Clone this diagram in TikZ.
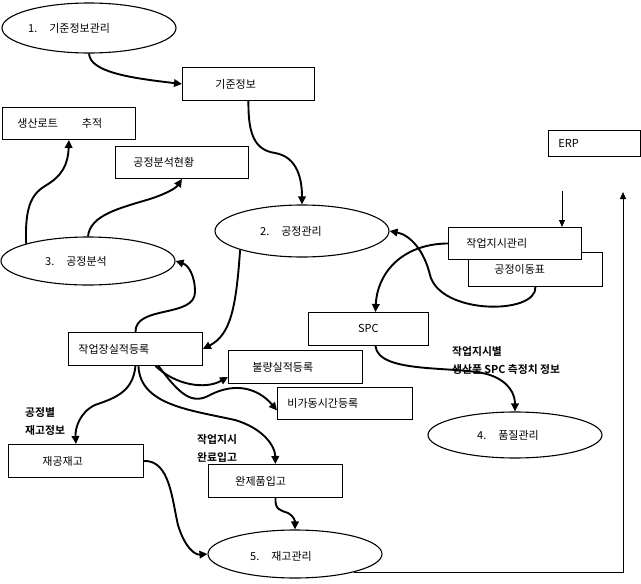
\documentclass[tikz,border=0pt]{standalone}
\usepackage{fontspec}
\setmainfont{Noto Sans CJK KR}[BoldFont={Noto Sans CJK KR Bold}]
\usetikzlibrary{shapes.geometric,arrows.meta,calc}
\tikzset{
  ell/.style={draw, ellipse, line width=1.1pt, inner sep=0pt},
  bx/.style={draw, line width=0.9pt, anchor=north west, align=left, inner ysep=0pt, fill=white},
  txt/.style={inner sep=0pt, anchor=west},
  lbl/.style={inner sep=0pt, anchor=west, align=left, font=\fontsize{10.8pt}{18pt}\selectfont\bfseries},
  flow/.style={line width=1.9pt, -{Triangle[length=8pt,width=7.5pt]}},
  thinflow/.style={line width=1pt, -{Triangle[length=7pt,width=6pt]}},
}
\begin{document}
\begin{tikzpicture}[x=1pt,y=-1pt,font=\fontsize{11pt}{13pt}\selectfont]
\fill[white] (0,0) rectangle (641,584);
\useasboundingbox (0,0) rectangle (641,584);

% ellipses
\node[ell, minimum width=174pt, minimum height=50pt] (e1) at (89,28) {};
\node[txt] (t1) at (28,28) {1.\hspace{12pt}기준정보관리};
\node[ell, minimum width=174pt, minimum height=52pt] (e2) at (302,231) {};
\node[txt] (t2) at (260,231) {2.\hspace{12pt}공정관리};
\node[ell, minimum width=174pt, minimum height=48pt] (e3) at (88,261) {};
\node[txt] (t3) at (45,261) {3.\hspace{12pt}공정분석};
\node[ell, minimum width=174pt, minimum height=46pt] (e4) at (515,435) {};
\node[txt] (t4) at (477,435) {4.\hspace{12pt}품질관리};
\node[ell, minimum width=174pt, minimum height=48pt] (e5) at (295,554) {};
\node[txt] (t5) at (250,556) {5.\hspace{12pt}재고관리};

% boxes
\node[bx, text width=66pt, inner xsep=33pt, minimum height=33pt] (kj) at (182,67) {기준정보};
\node[bx, text width=103pt, inner xsep=15pt, minimum height=32pt] (lot) at (2,107) {생산로트\hspace{24pt}추적};
\node[bx, text width=97pt, inner xsep=18pt, minimum height=32pt] (pa) at (115,146) {공정분석현황};
\node[bx, text width=114pt, inner xsep=10pt, minimum height=33pt] (wr) at (68,332) {작업장실적등록};
\node[bx, text width=86pt, inner xsep=24pt, minimum height=33pt] (bad) at (228,350) {불량실적등록};
\node[bx, text width=115pt, inner xsep=10pt, minimum height=32pt] (down) at (277,387) {비가동시간등록};
\node[bx, text width=100pt, inner xsep=10pt, minimum height=33pt, align=center] (spc) at (308,312) {SPC};
\node[bx, text width=72pt, inner xsep=10pt, minimum height=26pt] (erp) at (548,130) {ERP};
\node[bx, text width=82pt, inner xsep=26pt, minimum height=34pt] (mv) at (468,252) {\raisebox{-4pt}{공정이동표}};
\node[bx, text width=97pt, inner xsep=18pt, minimum height=32pt] (wo) at (448,227) {작업지시관리};
\node[bx, text width=67pt, inner xsep=34pt, minimum height=33pt] (wip) at (8,444) {재공재고};
\node[bx, text width=80pt, inner xsep=27pt, minimum height=33pt] (fin) at (208,464) {완제품입고};

% bold labels
\node[lbl] (l1) at (25,421) {공정별\\재고정보};
\node[lbl] (l2) at (197,448.5) {작업지시\\완료입고};
\node[lbl] (l3) at (452,360.5) {작업지시별\\생산품 SPC 측정치 정보};

% connectors
\draw[flow] (e1.south) .. controls (90,72) and (130,78) .. (kj.west);
\draw[flow] (kj.south) .. controls (248,135) and (255,150) .. (275,153) .. controls (298,157) and (302,180) .. (e2.north);
\draw[flow] (e3.north west) .. controls (25,210) and (30,195) .. (45,186) .. controls (62,176) and (68,165) .. (lot.south);
\draw[flow] (e3.north) .. controls (90,215) and (120,208) .. (150,199) .. controls (168,193) and (176,188) .. (pa.south);
\draw[flow] (wr.north) .. controls (135,305) and (195,318) .. (195,292) .. controls (195,275) and (188,265) .. (e3.east);
\draw[flow] (e2.south west) .. controls (236,310) and (230,335) .. (wr.east);
\draw[flow] (wo.west) .. controls (400,244) and (377,275) .. ($(spc.north)+(7,0)$);
\draw[flow] (mv.south) .. controls (537,315) and (440,315) .. (430,275) .. controls (424,250) and (410,235) .. (e2.east);
\draw[flow] ($(spc.south)+(7,0)$) .. controls (378,375) and (460,365) .. (490,375) .. controls (510,382) and (515,395) .. (e4.north);
\draw[flow] ($(wr.south)+(20,0)$) .. controls (175,385) and (205,390) .. ($(bad.west)+(0,10)$);
\draw[flow] ($(wr.south)+(23,0)$) .. controls (180,395) and (192,405) .. (210,395) .. controls (235,382) and (258,388) .. ($(down.west)+(0,7)$);
\draw[flow] (wr.south) .. controls (133,392) and (115,398) .. (95,405) .. controls (80,412) and (75,428) .. (wip.north);
\draw[flow] ($(wr.south)+(3,0)$) .. controls (140,405) and (190,410) .. (235,420) .. controls (262,428) and (275,445) .. (fin.north);
\draw[flow] (wip.east) .. controls (170,460) and (172,500) .. (178,525) .. controls (185,548) and (195,555) .. (e5.west);
\draw[flow] (fin.south) .. controls (275,510) and (280,510) .. (288,513) .. controls (295,517) and (295,522) .. (e5.north);

\coordinate (ertop) at (623,192);
\draw[thinflow] (e5.-17) -| (ertop);
\coordinate (erpd) at (562,191);
\draw[thinflow] (erpd) -- (erpd |- wo.north);
\end{tikzpicture}
\end{document}
